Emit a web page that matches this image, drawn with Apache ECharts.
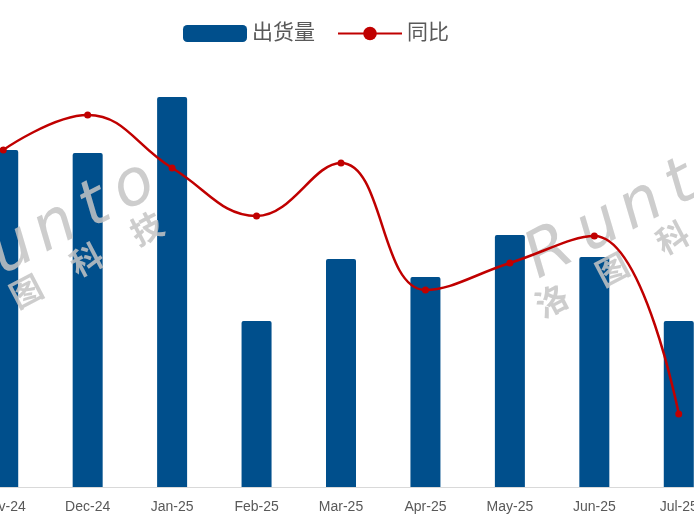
<!DOCTYPE html>
<html>
<head>
<meta charset="utf-8">
<title>出货量</title>
<script src="https://cdn.jsdelivr.net/npm/echarts@6/dist/echarts.min.js"></script>
<style>
  html, body { margin: 0; padding: 0; background: #fff; }
  #main { width: 694px; height: 532px; }
</style>
</head>
<body>
<div id="main"></div>
<script>
  // 月份
  var months = ['Nov-24', 'Dec-24', 'Jan-25', 'Feb-25', 'Mar-25', 'Apr-25', 'May-25', 'Jun-25', 'Jul-25']
  // 出货量 (相对刻度, 读图估计)
  var shipments = [337, 334, 390, 166, 228, 210, 252, 230, 166]
  // 同比 (相对刻度, 读图估计)
  var yoy = [337, 372, 319, 271, 324, 197, 224, 251, 73]

  var FONT = '"Liberation Sans", "Noto Sans CJK SC", sans-serif'
  var WM_COLOR = 'rgba(196, 196, 196, 0.85)'

  // 水印 Runto 洛图科技
  function watermark(x, y) {
    var letters = ['R', 'u', 'n', 't', 'o']
    var letterPos = [0, 55, 103, 148, 192]
    var chars = ['洛', '图', '科', '技']
    var children = []
    letters.forEach(function (c, i) {
      children.push({
        type: 'text',
        z: 3,
        style: {
          x: letterPos[i], y: 0,
          text: c,
          fontSize: 64,
          fontFamily: '"DejaVu Sans", sans-serif',
          fontWeight: 'lighter',
          fontStyle: 'italic',
          fill: WM_COLOR,
          textAlign: 'center',
          textVerticalAlign: 'middle'
        }
      })
    })
    chars.forEach(function (c, i) {
      children.push({
        type: 'text',
        z: 3,
        style: {
          x: -20 + i * 68, y: 42,
          text: c,
          fontSize: 32,
          fontWeight: 'bold',
          fontFamily: '"Noto Sans CJK SC", sans-serif',
          fill: WM_COLOR,
          textAlign: 'center',
          textVerticalAlign: 'middle'
        }
      })
    })
    return {
      type: 'group',
      x: x, y: y,
      rotation: 0.48,
      z: 3,
      silent: true,
      children: children
    }
  }

  var chart = echarts.init(document.getElementById('main'))
  var option = {
    animation: false,
    textStyle: { fontFamily: FONT },
    legend: {
      left: 178,
      top: 18,
      itemWidth: 64,
      itemHeight: 17,
      itemGap: 22,
      textStyle: { fontSize: 21, color: '#595959', fontFamily: FONT },
      data: [
        { name: '出货量', icon: 'roundRect' },
        { name: '同比' }
      ]
    },
    grid: {
      left: -39,
      right: -27,
      top: 50,
      bottom: 45,
      containLabel: false,
      outerBoundsMode: 'none'
    },
    xAxis: {
      type: 'category',
      data: months,
      boundaryGap: true,
      axisLine: { show: true, lineStyle: { color: '#d9d9d9', width: 1 } },
      axisTick: { show: false },
      axisLabel: { interval: 0, margin: 13, fontSize: 14, color: '#595959', fontFamily: FONT }
    },
    yAxis: [
      { type: 'value', min: 0, max: 437, show: false, splitLine: { show: false } },
      { type: 'value', min: 0, max: 437, show: false, splitLine: { show: false } }
    ],
    graphic: {
      elements: [
        watermark(550, 254),
        watermark(-36, 276)
      ]
    },
    series: [
      {
        name: '出货量',
        type: 'bar',
        data: shipments,
        barWidth: 30,
        z: 2,
        itemStyle: { color: '#004f8c', borderRadius: [2, 2, 0, 0] }
      },
      {
        name: '同比',
        type: 'line',
        yAxisIndex: 1,
        data: yoy,
        smooth: 0.42,
        z: 4,
        symbol: 'circle',
        symbolSize: 7,
        lineStyle: { color: '#c00000', width: 2.5 },
        itemStyle: { color: '#c00000' }
      }
    ]
  }
  chart.setOption(option)
</script>
</body>
</html>
